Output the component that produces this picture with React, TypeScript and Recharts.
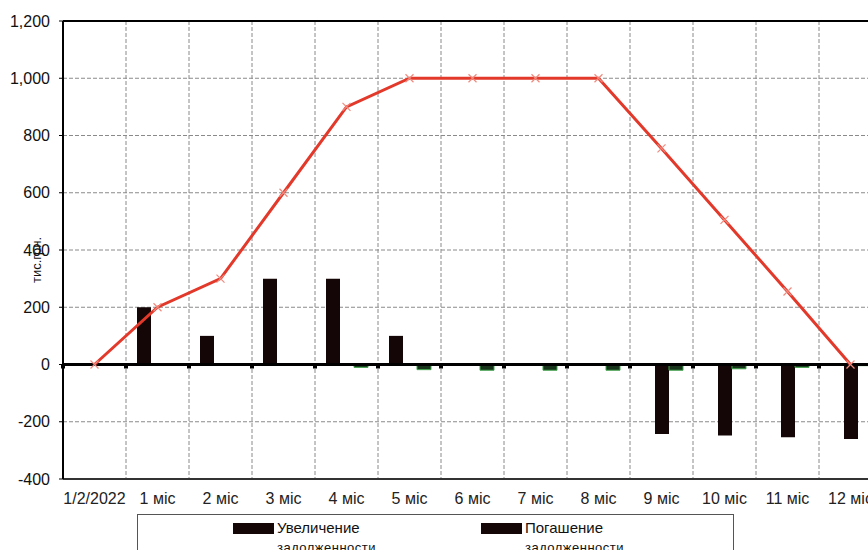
import React from "react";
import {
  ComposedChart,
  Bar,
  Line,
  XAxis,
  YAxis,
  CartesianGrid,
  ReferenceLine,
} from "recharts";

const categories = [
  "1/2/2022", "1 міс", "2 міс", "3 міс", "4 міс", "5 міс", "6 міс",
  "7 міс", "8 міс", "9 міс", "10 міс", "11 міс", "12 міс",
];
// Увеличение задолженности
const increase = [0, 200, 100, 300, 300, 100, 0, 0, 0, 0, 0, 0, 0];
// Погашение задолженности
const repayment = [0, 0, 0, 0, 0, 0, 0, 0, 0, -243, -248, -254, -260];
// третья серия (зелёные столбики, легенда обрезана)
const interest = [0, 0, 0, -2, -10, -18, -20, -20, -20, -20, -15, -10, -4];
// остаток задолженности
const balance = [0, 200, 300, 600, 900, 1000, 1000, 1000, 1000, 755, 505, 255, 0];

const yTicks = [-400, -200, 0, 200, 400, 600, 800, 1000, 1200];

const data = categories.map((name, i) => ({
  name,
  increase: increase[i],
  repayment: repayment[i],
  interest: interest[i],
  balance: balance[i],
}));

const BAR_BLACK = "#140606";
const LINE_RED = "#e2392b";
const FONT = "'Liberation Sans', Arial, sans-serif";

const CrossDot = (props: any) => {
  const { cx, cy, index } = props;
  if (cx == null || cy == null) return null;
  const s = 4;
  return (
    <path
      key={`dot-${index}`}
      d={`M${cx - s},${cy - s}L${cx + s},${cy + s}M${cx - s},${cy + s}L${cx + s},${cy - s}`}
      stroke="#f08a7e"
      strokeWidth={1.2}
      fill="none"
    />
  );
};

const ZeroLine = (props: any) => {
  const { x1, x2, y1 } = props;
  const n = categories.length;
  const step = (x2 - x1) / n;
  const marks = [];
  for (let i = 0; i < n; i++) {
    marks.push(
      <rect key={i} x={x1 + i * step - 2} y={y1} width={4} height={4} fill="#000" />
    );
  }
  return (
    <g>
      <line x1={x1} x2={x2} y1={y1} y2={y1} stroke="#000" strokeWidth={3} />
      {marks}
    </g>
  );
};

const UnitLabel = () => (
  <text
    transform="translate(36,260) rotate(-90)"
    textAnchor="middle"
    dominantBaseline="central"
    fontSize={13}
    fill="#111"
    fontFamily={FONT}
  >
    тис.грн.
  </text>
);

const legendItems = [
  { label: "Увеличение", label2: "задолженности", left: 232 },
  { label: "Погашение", label2: "задолженности", left: 480 },
];

export default function App() {
  return (
    <div
      style={{
        position: "absolute",
        left: 0,
        top: 0,
        width: 868,
        height: 550,
        overflow: "hidden",
        background: "#fff",
        fontFamily: FONT,
      }}
    >
      <ComposedChart
        width={900}
        height={560}
        data={data}
        margin={{ top: 21, right: 18, left: 0, bottom: 51 }}
        barSize={14}
        barGap={0}
      >
        <CartesianGrid
          stroke="#8a8a8a"
          strokeDasharray="4 2"
          verticalCoordinatesGenerator={({ offset }: any) =>
            categories.slice(1).map((_, i) => offset.left + ((i + 1) * offset.width) / categories.length)
          }
        />
        <XAxis
          dataKey="name"
          tickLine={false}
          tickSize={0}
          tickMargin={14}
          axisLine={{ stroke: "#333", strokeWidth: 2 }}
          tick={{ fill: "#222", fontSize: 16, fontFamily: FONT }}
          interval={0}
        />
        <YAxis
          width={63}
          domain={[-400, 1200]}
          ticks={yTicks}
          tickFormatter={(v: number) => v.toLocaleString("en-US")}
          tickSize={4}
          tickMargin={9}
          tickLine={{ stroke: "#000" }}
          axisLine={{ stroke: "#000", strokeWidth: 2 }}
          tick={{ fill: "#111", fontSize: 16, fontFamily: FONT }}
        />
        <ReferenceLine y={1200} stroke="#000" strokeWidth={2} />
        <Bar dataKey="increase" fill={BAR_BLACK} isAnimationActive={false} />
        <Bar dataKey="repayment" fill={BAR_BLACK} isAnimationActive={false} />
        <Bar
          dataKey="interest"
          fill="#17331a"
          stroke="#3fa34a"
          strokeWidth={1}
          isAnimationActive={false}
        />
        <ReferenceLine y={0} shape={ZeroLine} />
        <Line
          type="linear"
          dataKey="balance"
          stroke={LINE_RED}
          strokeWidth={3}
          dot={CrossDot}
          activeDot={false}
          isAnimationActive={false}
        />
        <UnitLabel />
      </ComposedChart>
      <div
        style={{
          position: "absolute",
          left: 137,
          top: 514,
          width: 597,
          height: 60,
          border: "1px solid #555",
          boxSizing: "border-box",
        }}
      >
        {legendItems.map((it) => (
          <div
            key={it.label}
            style={{ position: "absolute", left: it.left - 137, top: 3, display: "flex" }}
          >
            <div style={{ width: 41, height: 11, background: BAR_BLACK, marginTop: 5 }} />
            <div style={{ marginLeft: 3, fontSize: 15, lineHeight: "20px", color: "#111" }}>
              <div>{it.label}</div>
              <div style={{ fontSize: 13, letterSpacing: 0.5 }}>{it.label2}</div>
            </div>
          </div>
        ))}
      </div>
    </div>
  );
}
